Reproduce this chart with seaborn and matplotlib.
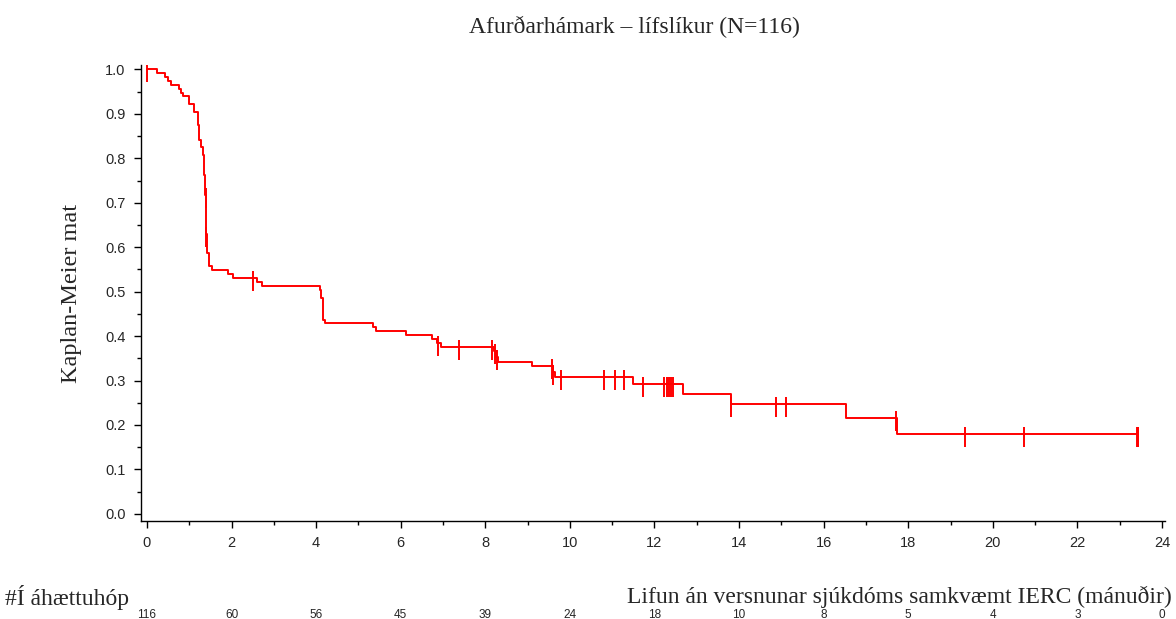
import numpy as np
import pandas as pd
import matplotlib
matplotlib.use("Agg")
import matplotlib.pyplot as plt
import matplotlib.transforms as mtransforms
from matplotlib.ticker import MultipleLocator, FormatStrFormatter
import seaborn as sns

# Kaplan-Meier estimate: month of each step and survival right after it
step_months = [0.00, 0.25, 0.43, 0.49, 0.58, 0.76, 0.80, 0.86, 0.99, 1.12,
               1.21, 1.23, 1.27, 1.32, 1.35, 1.38, 1.40, 1.42, 1.47, 1.55,
               1.91, 2.04, 2.61, 2.73, 4.09, 4.11, 4.17, 4.21, 5.35, 5.41,
               6.12, 6.73, 6.86, 6.95, 8.20, 8.25, 8.30, 9.11, 9.60, 9.65,
               11.50, 12.68, 13.82, 16.53, 17.73]
step_survival = [1.000, 0.991, 0.983, 0.974, 0.965, 0.957, 0.948, 0.940, 0.922, 0.904,
                 0.876, 0.842, 0.825, 0.807, 0.762, 0.717, 0.630, 0.586, 0.558, 0.549,
                 0.540, 0.531, 0.521, 0.512, 0.503, 0.485, 0.436, 0.430, 0.420, 0.411,
                 0.402, 0.393, 0.385, 0.375, 0.366, 0.353, 0.342, 0.333, 0.320, 0.307,
                 0.292, 0.270, 0.247, 0.215, 0.180]
last_followup = 23.44

# Censored observations (months)
censor_months = [0.00, 1.385, 1.405, 2.50, 6.88, 7.38, 8.17, 8.22, 8.27, 9.58,
                 9.61, 9.79, 10.81, 11.06, 11.29, 11.72, 12.22, 12.29, 12.34, 12.39,
                 12.44, 13.82, 14.87, 15.11, 17.70, 19.35, 20.73, 23.40, 23.42, 23.44]

# Number at risk table
risk_months = [0, 2, 4, 6, 8, 10, 12, 14, 16, 18, 20, 22, 24]
risk_counts = [116, 60, 56, 45, 39, 24, 18, 10, 8, 5, 4, 3, 0]

title = "Afurðarhámark – lífslíkur (N=116)"
xlabel = "Lifun án versnunar sjúkdóms samkvæmt IERC (mánuðir)"
ylabel = "Kaplan-Meier mat"
risk_label = "#Í áhættuhóp"

sns.set_style("ticks")
plt.rcParams["font.family"] = ["Liberation Sans", "DejaVu Sans"]
serif = ["Liberation Serif", "DejaVu Serif"]

fig = plt.figure(figsize=(11.76, 6.19), dpi=100)
ax = fig.add_axes([141 / 1176, 98 / 619, 1024 / 1176, 456 / 619])

curve = pd.DataFrame({
    "month": step_months + [last_followup],
    "survival": step_survival + [step_survival[-1]],
})
sns.lineplot(data=curve, x="month", y="survival", drawstyle="steps-post",
             estimator=None, sort=False, color="red", linewidth=1.4, ax=ax)

# censor ticks sit on the curve at the survival level in effect at that time
idx = np.searchsorted(step_months, censor_months, side="right") - 1
levels = np.asarray(step_survival)[idx]
ax.vlines(censor_months, levels - 0.029, levels + 0.016, color="red", linewidth=1.4)

ax.set_xlim(-0.14, 24.07)
ax.set_ylim(-0.016, 1.01)
ax.xaxis.set_major_locator(MultipleLocator(2))
ax.xaxis.set_minor_locator(MultipleLocator(1))
ax.yaxis.set_major_locator(MultipleLocator(0.1))
ax.yaxis.set_minor_locator(MultipleLocator(0.05))
ax.yaxis.set_major_formatter(FormatStrFormatter("%.1f"))
ax.tick_params(axis="both", which="major", length=5, width=1, labelsize=10.5, color="black", pad=6)
ax.tick_params(axis="both", which="minor", length=3, width=1, color="black")
sns.despine(ax=ax)
for side in ("left", "bottom"):
    ax.spines[side].set_linewidth(1.0)
    ax.spines[side].set_color("black")

ax.set_xlabel(xlabel, family=serif, fontsize=17, ha="right", va="center")
ax.xaxis.set_label_coords(1.007, -0.167)
ax.set_ylabel(ylabel, family=serif, fontsize=17.5, va="center")
ax.yaxis.set_label_coords(-0.068, 0.5)

fig.text(634 / 1176, 1 - 27 / 619, title, family=serif, fontsize=17, ha="center", va="center")
fig.text(5 / 1176, 1 - 598 / 619, risk_label, family=serif, fontsize=17, ha="left", va="center")

trans = mtransforms.blended_transform_factory(ax.transData, fig.transFigure)
for m, n in zip(risk_months, risk_counts):
    ax.text(m, 1 - 615 / 619, str(n), transform=trans, ha="center", va="center",
            fontsize=8.5, clip_on=False)

fig.savefig("out.png", dpi=100)
